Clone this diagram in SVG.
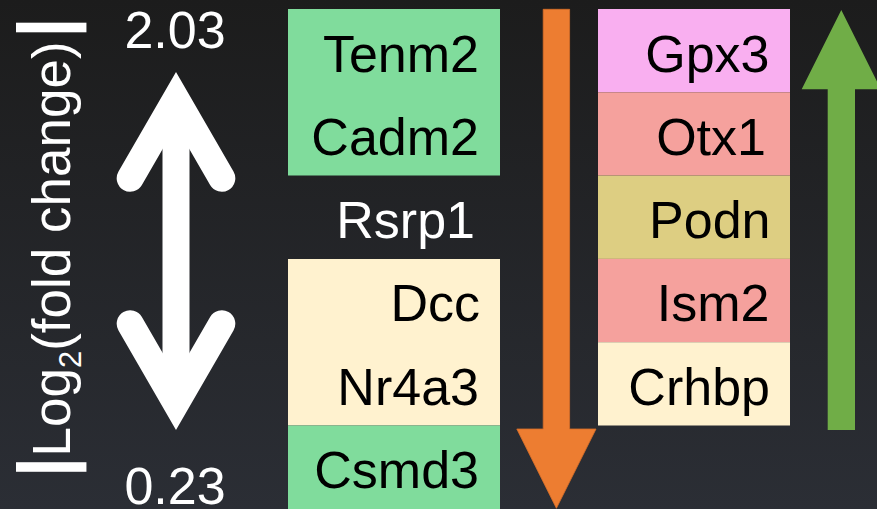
<svg xmlns="http://www.w3.org/2000/svg" width="877" height="509" viewBox="0 0 877 509">
  <defs>
    <linearGradient id="bg" x1="0" y1="0" x2="0" y2="1">
      <stop offset="0" stop-color="#1c1c1c"/>
      <stop offset="1" stop-color="#2b2e35"/>
    </linearGradient>
  </defs>
  <style>
    text { font-family: "Liberation Sans", Arial, sans-serif; }
    .gene { font-size: 52px; fill: #000; text-anchor: end; }
    .gene.light { fill: #fff; }
    .scale { font-size: 52px; fill: #fff; text-anchor: middle; }
    .axis { font-size: 53px; fill: #fff; }
    .green { fill: #80dc9c; }
    .cream { fill: #fff2cf; }
    .pink { fill: #f9aff0; }
    .salmon { fill: #f5a19d; }
    .olive { fill: #ddce82; }
  </style>

  <rect width="877" height="509" fill="url(#bg)"/>

  <!-- axis title, rotated to read bottom to top -->
  <g id="axis-title">
    <text class="axis" transform="translate(70,453) rotate(-90)" x="-24.5" y="0"><tspan font-weight="bold" font-size="75">|</tspan><tspan x="-3.5">Log</tspan><tspan font-size="31" dy="11">2</tspan><tspan dy="-11">(fold change)</tspan><tspan font-weight="bold" font-size="75" x="415">|</tspan></text>
  </g>

  <!-- magnitude scale: double-headed arrow with end values -->
  <g id="scale">
    <text class="scale" x="175" y="48">2.03</text>
    <text class="scale" x="175" y="504">0.23</text>
    <path d="M130.2,178.3 L176,99 L221.8,178.3 M130.2,323.7 L176,403 L221.8,323.7" fill="none" stroke="#fff" stroke-width="27" stroke-linecap="round" stroke-linejoin="miter"/>
    <line x1="176" y1="99" x2="176" y2="403" stroke="#fff" stroke-width="27"/>
  </g>

  <!-- down-regulated genes -->
  <g id="down-genes">
    <g id="tenm2-cadm2">
      <rect class="green" x="288" y="9" width="212" height="166.5"/>
      <text class="gene" x="479" y="71.7">Tenm2</text>
      <text class="gene" x="479" y="154.9">Cadm2</text>
    </g>
    <g id="rsrp1">
      <text class="gene light" x="475" y="238.1">Rsrp1</text>
    </g>
    <g id="dcc-nr4a3">
      <rect class="cream" x="288" y="259" width="212" height="166.5"/>
      <text class="gene" x="480" y="321.3">Dcc</text>
      <text class="gene" x="479" y="404.5">Nr4a3</text>
    </g>
    <g id="csmd3">
      <rect class="green" x="288" y="425.5" width="212" height="84"/>
      <text class="gene" x="479" y="487.7">Csmd3</text>
    </g>
  </g>

  <!-- up-regulated genes -->
  <g id="up-genes">
    <g id="gpx3">
      <rect class="pink" x="598" y="9" width="192" height="83.3"/>
      <text class="gene" x="769.5" y="71.7">Gpx3</text>
    </g>
    <g id="otx1">
      <rect class="salmon" x="598" y="92.3" width="192" height="83.3"/>
      <text class="gene" x="766" y="154.9">Otx1</text>
    </g>
    <g id="podn">
      <rect class="olive" x="598" y="175.6" width="192" height="83.3"/>
      <text class="gene" x="770.5" y="238.1">Podn</text>
    </g>
    <g id="ism2">
      <rect class="salmon" x="598" y="258.9" width="192" height="83.3"/>
      <text class="gene" x="769.5" y="321.3">Ism2</text>
    </g>
    <g id="crhbp">
      <rect class="cream" x="598" y="342.2" width="192" height="83.3"/>
      <text class="gene" x="770" y="404.5">Crhbp</text>
    </g>
  </g>

  <!-- direction arrows -->
  <g id="connectors">
    <polygon points="543.2,9.3 569.6,9.3 569.6,429 596,429 556.4,508.3 516.8,429 543.2,429" fill="#ed7d31" stroke="#d86f28" stroke-width="0.8"/>
    <polygon points="841.3,10 880.9,89.3 855,89.3 855,430 827.7,430 827.7,89.3 801.7,89.3" fill="#70ad47"/>
  </g>
</svg>
